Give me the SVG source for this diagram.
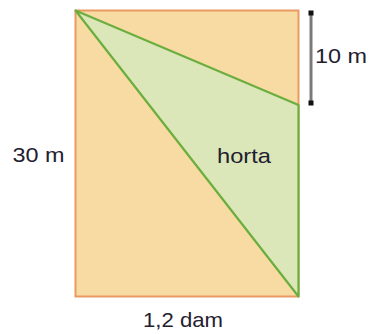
<svg xmlns="http://www.w3.org/2000/svg" width="369" height="334" viewBox="0 0 369 334">
<style>
text{font-family:"Liberation Sans",Arial,sans-serif;font-size:21px;fill:#1f2030}
</style>
<rect width="369" height="334" fill="#fff"/>
<g id="terreno">
<rect x="75.5" y="10.5" width="223" height="286" fill="#f7dba2" stroke="#e99a62" stroke-width="2"/>
</g>
<g id="horta">
<polygon points="75.5,10.5 298.5,105 298.5,296.5" fill="#dbe7b9" stroke="#6cae3e" stroke-width="2.2" stroke-linejoin="round"/>
<text x="217" y="163" textLength="54" lengthAdjust="spacingAndGlyphs">horta</text>
</g>
<g id="cota">
<line x1="311" y1="13" x2="311" y2="103" stroke="#7a7a7a" stroke-width="3"/>
<rect x="308.5" y="10.5" width="5" height="5" fill="#111"/>
<rect x="308.5" y="100.5" width="5" height="5" fill="#111"/>
<text x="315" y="63" textLength="52" lengthAdjust="spacingAndGlyphs">10 m</text>
</g>
<g id="rotulos">
<text x="12.5" y="162" textLength="52" lengthAdjust="spacingAndGlyphs">30 m</text>
<text x="143" y="327" textLength="80" lengthAdjust="spacingAndGlyphs">1,2 dam</text>
</g>
</svg>
